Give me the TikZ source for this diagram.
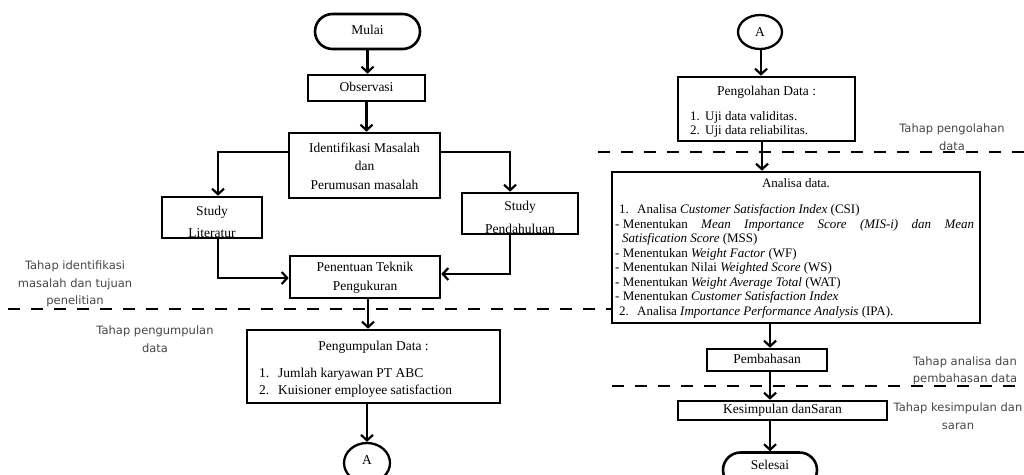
\documentclass[tikz,border=0pt]{standalone}
\usepackage{fontspec}
\setmainfont{Liberation Serif}
\newfontfamily\lblfont{DejaVu Sans}
\usetikzlibrary{arrows.meta,shapes.misc,shapes.geometric}
\tikzset{
  box/.style={draw, line width=2.6pt, rectangle, inner sep=0pt, fill=white},
  term/.style={draw, line width=2.6pt, rounded rectangle, inner sep=0pt, fill=white},
  oval/.style={draw, line width=2.3pt, ellipse, inner sep=0pt, fill=white},
  txt/.style={inner sep=0pt, font=\fontsize{13.5}{15}\selectfont, text height=9.5pt, text depth=3pt},
  stxt/.style={inner sep=0pt, font=\fontsize{13}{14.5}\selectfont, text height=9pt, text depth=3pt},
  mtxt/.style={inner sep=0pt, align=center, font=\fontsize{13.5}{18.5}\selectfont},
  conn/.style={line width=2.2pt, -{Straight Barb[length=5.5pt,width=12pt]}},
  lbl/.style={inner sep=0pt, align=center, text=black!72, font=\lblfont\fontsize{11.5}{17.5}\selectfont},
  phase/.style={line width=2.6pt, dash pattern=on 12pt off 11pt}
}
\begin{document}
\begin{tikzpicture}[x=1pt,y=-1pt]
\fill[white] (0,0) rectangle (1024,474);
\path[use as bounding box] (0,0) rectangle (1024,474);

% phase separators
\draw[phase] (8,309) -- (612,309);
\draw[phase] (598,152) -- (1024,152);
\draw[phase] (612,386) -- (1024,386);

% ---------- left column ----------
\node[term, minimum width=105pt, minimum height=35pt] (mulai) at (367.5,31.5) {};
\node[txt] (mulait) at (367.5,31.5) {Mulai};
\node[box, minimum width=117pt, minimum height=26pt] (obs) at (366.5,88) {};
\node[txt] (obst) at (366.5,88) {Observasi};
\node[box, minimum width=151pt, minimum height=65pt] (ident) at (364.5,165.5) {};
\node[mtxt] (identt) at (364.5,166) {Identifikasi Masalah\\dan\\Perumusan masalah};

\node[box, minimum width=100pt, minimum height=41pt] (lit) at (212,217.5) {};
\node[txt] (litt) at (212,212) {Study};
\begin{scope}
  \clip ([xshift=1.3pt,yshift=1.3pt]lit.south west) rectangle ([xshift=-1.3pt,yshift=-1.3pt]lit.north east);
  \node[txt] (litt2) at (212,234.5) {Literatur};
\end{scope}
\node[box, minimum width=116pt, minimum height=41pt] (pend) at (520,213.5) {};
\node[txt] (pendt) at (520,207) {Study};
\begin{scope}
  \clip ([xshift=1.3pt,yshift=1.3pt]pend.south west) rectangle ([xshift=-1.3pt,yshift=-1.3pt]pend.north east);
  \node[txt] (pendt2) at (520,230.5) {Pendahuluan};
\end{scope}

\node[box, minimum width=150pt, minimum height=42pt] (pen) at (365,277) {};
\node[mtxt] (pent) at (365,278) {Penentuan Teknik\\Pengukuran};

\node[box, minimum width=253pt, minimum height=73pt] (kumpul) at (373.5,366.5) {};
\node[txt] (kumpult) at (373.5,347) {Pengumpulan Data :};
\node[txt, anchor=west] (kumpul1) at (259,374) {\makebox[19pt][l]{1.}Jumlah karyawan PT ABC};
\node[txt, anchor=west] (kumpul2) at (259,391) {\makebox[19pt][l]{2.}Kuisioner employee satisfaction};

\node[oval, minimum width=46pt, minimum height=40pt] (aleft) at (367,463) {};
\node[txt] (aleftt) at (367,461) {A};

% ---------- right column ----------
\node[oval, minimum width=44pt, minimum height=34pt] (aright) at (760,32) {};
\node[txt] (arightt) at (760,33) {A};

\node[box, minimum width=177pt, minimum height=64pt] (olah) at (766.5,109) {};
\node[txt] (olaht) at (766.5,92) {Pengolahan Data :};
\node[stxt, anchor=west] (olah1) at (690,117) {\makebox[15pt][l]{1.}Uji data validitas.};
\node[stxt, anchor=west] (olah2) at (690,131) {\makebox[15pt][l]{2.}Uji data reliabilitas.};

\node[box, minimum width=368pt, minimum height=151pt] (ana) at (796,247.5) {};
\node[stxt] (anat) at (796,184) {Analisa data.};
\node[stxt, anchor=west] (ana1) at (619,210) {\makebox[18pt][l]{1.}Analisa \textit{Customer Satisfaction Index} (CSI)};
\node[stxt, anchor=west] (ana2) at (615,225) {\makebox[359pt][s]{\mbox{- Menentukan} \textit{Mean Importance Score (MIS-i) dan Mean}}};
\node[stxt, anchor=west] (ana3) at (622,239.5) {\textit{Satisfication Score} (MSS)};
\node[stxt, anchor=west] (ana4) at (615,254) {- Menentukan \textit{Weight Factor} (WF)};
\node[stxt, anchor=west] (ana5) at (615,268.5) {- Menentukan Nilai \textit{Weighted Score} (WS)};
\node[stxt, anchor=west] (ana6) at (615,283) {- Menentukan \textit{Weight Average Total} (WAT)};
\node[stxt, anchor=west] (ana7) at (615,297.5) {- Menentukan \textit{Customer Satisfaction Index}};
\node[stxt, anchor=west] (ana8) at (619,312) {\makebox[18pt][l]{2.}Analisa \textit{Importance Performance Analysis} (IPA).};

\node[box, minimum width=120pt, minimum height=22pt] (bahas) at (767,360) {};
\node[txt] (bahast) at (767,360) {Pembahasan};
\node[box, minimum width=209pt, minimum height=19pt] (simpul) at (782.5,410.5) {};
\node[txt] (simpult) at (782.5,410.5) {Kesimpulan danSaran};
\node[term, minimum width=94pt, minimum height=35pt] (selesai) at (770,470) {};
\node[txt] (selesait) at (770,466) {Selesai};

% ---------- phase labels ----------
\node[lbl] (l1) at (75,284) {Tahap identifikasi\\masalah dan tujuan\\penelitian};
\node[lbl] (l2) at (155,339) {Tahap pengumpulan\\data};
\node[lbl] (l3) at (952,137) {Tahap pengolahan\\data};
\node[lbl] (l4) at (965,371) {Tahap analisa dan\\pembahasan data};
\node[lbl] (l5) at (958,416) {Tahap kesimpulan dan\\saran};

% ---------- connectors ----------
\draw[conn] (mulai.south) -- (mulai.south |- obs.north);
\draw[conn] (obs.south) -- (obs.south |- ident.north);
\draw[conn] ([yshift=13.5pt]ident.west) -| ([xshift=6pt]lit.north);
\draw[conn] ([yshift=13.5pt]ident.east) -| ([xshift=-10pt]pend.north);
\draw[conn] ([xshift=6pt]lit.south) |- ([yshift=-1pt]pen.west);
\draw[conn] ([xshift=-10pt]pend.south) |- ([yshift=3pt]pen.east);
\draw[conn] ([xshift=3pt]pen.south) -- ([xshift=3pt]pen.south |- kumpul.north);
\draw[conn] ([xshift=-6.5pt]kumpul.south) -- (aleft.north);
\draw[conn] ([xshift=1pt]aright.south) -- ([xshift=1pt]aright.south |- olah.north);
\draw[conn] ([xshift=-4.5pt]olah.south) -- ([xshift=-4.5pt]olah.south |- ana.north);
\draw[conn] ([xshift=3pt]bahas.south |- ana.south) -- ([xshift=3pt]bahas.north);
\draw[conn] ([xshift=3pt]bahas.south) -- ([xshift=3pt]bahas.south |- simpul.north);
\draw[conn] (selesai.north |- simpul.south) -- (selesai.north);
\end{tikzpicture}
\end{document}
